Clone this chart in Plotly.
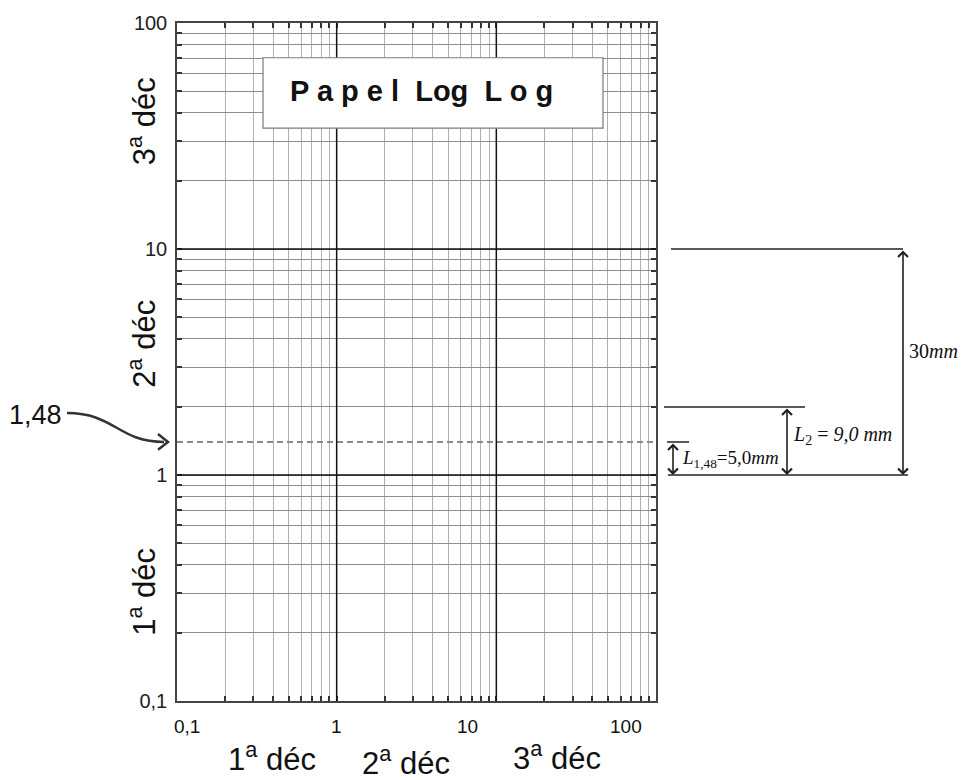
import math
import plotly.graph_objects as go

# ---------------- data ----------------
DECADE_STARTS = [0.1, 1, 10]
MANTISSAS = [1, 2, 3, 4, 5, 6, 7, 8, 9]
TOP_VALUE = 100
MAJOR_LINES = [1, 10]
Y_TICK_LABELS = {0.1: "0,1", 1: "1", 10: "10", 100: "100"}
X_TICK_LABELS = ["0,1", "1", "10", "100"]
X_DECADE_TITLES = ["1<sup>a</sup> déc", "2<sup>a</sup> déc", "3<sup>a</sup> déc"]
Y_DECADE_TITLES = ["3<sup>a</sup> déc", "2<sup>a</sup> déc", "1<sup>a</sup> déc"]
MARKED_VALUE = 1.4          # drawn position of the dashed line
MARKED_LABEL = "1,48"
DECADE_SPAN = (1, 10)       # 30 mm
L2_SPAN = (1, 2)            # 9,0 mm
L148_SPAN = (1, MARKED_VALUE)  # 5,0 mm
TITLE = "P a p e l\u00a0\u00a0Log\u00a0\u00a0L o g"

# ---------------- layout helpers (pixel -> paper) ----------------
W, H = 963, 780
ML, MR, MT, MB = 177, 307, 18, 79
PW, PH = W - ML - MR, H - MT - MB


def px(xpix):
    return (xpix - ML) / PW


def py(ypix):
    return (H - MB - ypix) / PH


grid_vals = [d * m for d in DECADE_STARTS for m in MANTISSAS] + [TOP_VALUE]
y_text = [Y_TICK_LABELS.get(round(v, 6), "") for v in grid_vals]

FONT = "Liberation Sans"
SERIF = "Liberation Serif"

fig = go.Figure()
fig.add_trace(go.Scatter(
    x=[DECADE_STARTS[0], TOP_VALUE], y=[MARKED_VALUE, MARKED_VALUE],
    mode="lines", line=dict(color="#8a8a8a", width=2, dash="6px,4px"),
    hoverinfo="skip", showlegend=False))

axis_common = dict(
    type="log", range=[-1, 2], tickmode="array", tickvals=grid_vals,
    ticks="inside", ticklen=5, tickwidth=1.5, tickcolor="#333",
    showline=True, linecolor="#444", linewidth=1.5, mirror="ticks",
    zeroline=False, showgrid=True, gridwidth=1, fixedrange=True)

shapes = []
# heavy decade lines
for v in MAJOR_LINES:
    shapes.append(dict(type="line", xref="x", yref="paper", x0=v, x1=v, y0=0, y1=1,
                       line=dict(color="#111", width=1.5), layer="above"))
    shapes.append(dict(type="line", xref="paper", yref="y", x0=0, x1=1, y0=v, y1=v,
                       line=dict(color="#111", width=1.5), layer="above"))

# title box
shapes.append(dict(type="rect", xref="paper", yref="paper",
                   x0=px(263), x1=px(603), y0=py(124), y1=py(53),
                   fillcolor="white", line=dict(color="#7a7a7a", width=1.2), layer="above"))

# dimension reference lines
dim_lines = [
    (DECADE_SPAN[1], 671, 903),
    (L2_SPAN[1], 664, 805),
    (DECADE_SPAN[0], 668, 908),
    (L148_SPAN[1], 667, 689),
]
for yv, xa, xb in dim_lines:
    shapes.append(dict(type="line", xref="paper", yref="y", x0=px(xa), x1=px(xb),
                       y0=yv, y1=yv, line=dict(color="#222", width=1.5)))

# curved pointer for 1,48
curve = (f"M {px(67)},{py(411)} C {px(115)},{py(411)} {px(118)},{py(440)} {px(164)},{py(440)} "
         f"M {px(158)},{py(432)} L {px(168)},{py(440)} L {px(158)},{py(448)}")
shapes.append(dict(type="path", xref="paper", yref="paper", path=curve,
                   line=dict(color="#333", width=2.5)))

annotations = []


def text_ann(text, x, y, size, family=FONT, xanchor="center", yanchor="middle", **kw):
    annotations.append(dict(text=text, xref="paper", yref="paper", x=x, y=y,
                            xanchor=xanchor, yanchor=yanchor, showarrow=False,
                            font=dict(family=family, size=size, color="#111"), **kw))


# title
text_ann(f"<b>{TITLE}</b>", px(421), py(86), 29)
# x tick labels (as placed in the original)
for lab, xp in zip(X_TICK_LABELS, [187, 336, 467, 626]):
    text_ann(lab, px(xp), py(727), 19)
# x decade titles
for lab, (xp, yp) in zip(X_DECADE_TITLES, [(272, 757), (406, 761), (557, 756)]):
    text_ann(lab, px(xp), py(yp), 31)
# y decade titles
for lab, yp in zip(Y_DECADE_TITLES, [117, 341, 591]):
    text_ann(lab, px(142), py(yp), 31, textangle=-90)
# 1,48 label
text_ann(MARKED_LABEL, px(64), py(413), 27, xanchor="right")
# dimension arrows
for (lo, hi), xpix in [(DECADE_SPAN, 903), (L2_SPAN, 787), (L148_SPAN, 673)]:
    annotations.append(dict(text="", xref="paper", yref="y", x=px(xpix), y=math.log10(lo),
                            axref="pixel", ax=0, ayref="y", ay=math.log10(hi),
                            showarrow=True, arrowside="end+start", arrowhead=4,
                            arrowsize=1.2, arrowwidth=1.6, arrowcolor="#222",
                            standoff=0, startstandoff=0))
# dimension texts
text_ann("30<i>mm</i>", px(907), py(348), 20, family=SERIF, xanchor="left")
text_ann("<i>L</i><sub>2</sub> = <i>9,0 mm</i>", px(791), py(434), 20, family=SERIF, xanchor="left")
text_ann("<i>L</i><sub>1,48</sub>=5,0<i>mm</i>", px(680), py(457), 19, family=SERIF, xanchor="left")

fig.update_layout(
    width=W, height=H,
    margin=dict(l=ML, r=MR, t=MT, b=MB, pad=0),
    paper_bgcolor="white", plot_bgcolor="white",
    font=dict(family=FONT, color="#111"),
    xaxis=dict(**axis_common, gridcolor="#b0b0b0", showticklabels=False),
    yaxis=dict(**axis_common, gridcolor="#8c8c8c", ticktext=y_text,
               tickfont=dict(family=FONT, size=20, color="#222"),
               ticklabelstandoff=4),
    shapes=shapes, annotations=annotations, showlegend=False)

fig.write_html("out.html")
